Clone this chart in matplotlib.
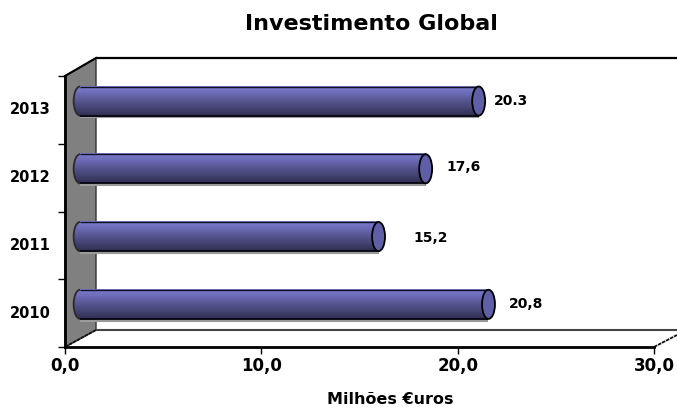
import numpy as np
import matplotlib
matplotlib.use("Agg")
import matplotlib.pyplot as plt
from matplotlib.patches import Ellipse, Polygon, Arc
from matplotlib.colors import LinearSegmentedColormap

years = ["2010", "2011", "2012", "2013"]
values = [20.8, 15.2, 17.6, 20.3]
value_labels = ["20,8", "15,2", "17,6", "20.3"]
label_offsets = [0.7, 1.45, 0.75, 0.45]
label_dy = [0.0, -0.02, 0.02, 0.0]
x_ticks = [0, 10, 20, 30]
x_labels = ["0,0", "10,0", "20,0", "30,0"]

W, H = 677, 408
fig = plt.figure(figsize=(W / 100, H / 100), dpi=100, facecolor="white")
font = "DejaVu Sans"

bg = fig.add_axes([0, 0, 1, 1], zorder=0)
bg.set_xlim(0, W); bg.set_ylim(H, 0); bg.axis("off")
bg.add_patch(Polygon([(65, 76), (96, 58), (96, 330), (65, 347)], closed=True,
                     facecolor="#808080", edgecolor="#333333", lw=1))
bg.plot([96, W], [58, 58], color="black", lw=1.6, solid_capstyle="butt")
bg.plot([96, W], [330, 330], color="#444444", lw=1.5, solid_capstyle="butt")
bg.plot([65, 96], [76, 58], color="black", lw=1.5)
bg.plot([65, 96], [347, 330], color="#111111", lw=1.3, ls=(0, (2, 0.5)))
bg.plot([654, W], [347, 335], color="#111111", lw=1.3, ls=(0, (2, 0.5)))

ax = fig.add_axes([65 / W, 1 - 347 / H, (654 - 65) / W, (347 - 76) / H], zorder=1)
ax.patch.set_alpha(0)
ax.set_xlim(0, 30); ax.set_ylim(-0.5, 3.5)
for s in ("top", "right"):
    ax.spines[s].set_visible(False)
for s in ("left", "bottom"):
    ax.spines[s].set_linewidth(2.0)
ax.set_xticks(x_ticks)
ax.set_xticklabels(x_labels, fontsize=12, fontweight="bold", family=font)
ax.set_yticks([-0.5, 0.5, 1.5, 2.5, 3.5])
ax.set_yticklabels([])
ax.tick_params(axis="both", length=5, width=1.0, color="black")
ax.tick_params(axis="x", pad=2.5)
for i, y in enumerate(years):
    ax.text(-0.75, i, y, ha="right", va="center", fontsize=10.5, fontweight="bold", family=font)

cmap = LinearSegmentedColormap.from_list("bar", ["#7d7dd2", "#6a6ab4", "#55558f", "#434373", "#2e2e52"])
grad = np.linspace(0, 1, 64).reshape(-1, 1)
START = 0.77
DEPTH = 1.1
YSHIFT = 0.13
BH = 0.43
CAPW = 0.66

for i, v in enumerate(values):
    yc = i + YSHIFT
    end = v + DEPTH - CAPW / 2
    top, bot = yc + BH / 2, yc - BH / 2
    ax.plot([START, end], [bot - 0.025, bot - 0.025], color="#9a9a9a", lw=1.5, zorder=2, solid_capstyle="butt")
    ax.imshow(grad, cmap=cmap, aspect="auto", extent=(START, end, bot, top), zorder=3, interpolation="bilinear")
    left_im = ax.imshow(grad, cmap=cmap, aspect="auto", extent=(START - CAPW / 2, START, bot, top), zorder=3, interpolation="bilinear")
    clip = Ellipse((START, yc), CAPW, BH, transform=ax.transData, facecolor="none", edgecolor="none")
    ax.add_patch(clip)
    left_im.set_clip_path(clip)
    ax.add_patch(Arc((START, yc), CAPW, BH, theta1=90, theta2=270, color="#2a2a2a", lw=1.3, zorder=4))
    ax.plot([START, end], [top, top], color="#111122", lw=1.0, zorder=4, solid_capstyle="butt")
    ax.plot([START, end], [bot, bot], color="#0a0a18", lw=1.4, zorder=4, solid_capstyle="butt")
    ax.add_patch(Ellipse((end, yc), CAPW, BH, facecolor="#5f5fa8", edgecolor="black", lw=1.3, zorder=5))
    ax.text(v + DEPTH + label_offsets[i], yc + label_dy[i], value_labels[i], ha="left", va="center",
            fontsize=10, fontweight="bold", family=font, zorder=6)

ax.set_xlim(0, 30); ax.set_ylim(-0.5, 3.5)

fig.text(371 / W, 1 - 24 / H, "Investimento Global", ha="center", va="center",
         fontsize=16, fontweight="bold", family=font)
fig.text(390 / W, 1 - 399 / H, "Milhões €uros", ha="center", va="center",
         fontsize=11.5, fontweight="bold", family=font)

fig.savefig("out.png", dpi=100, facecolor="white")
